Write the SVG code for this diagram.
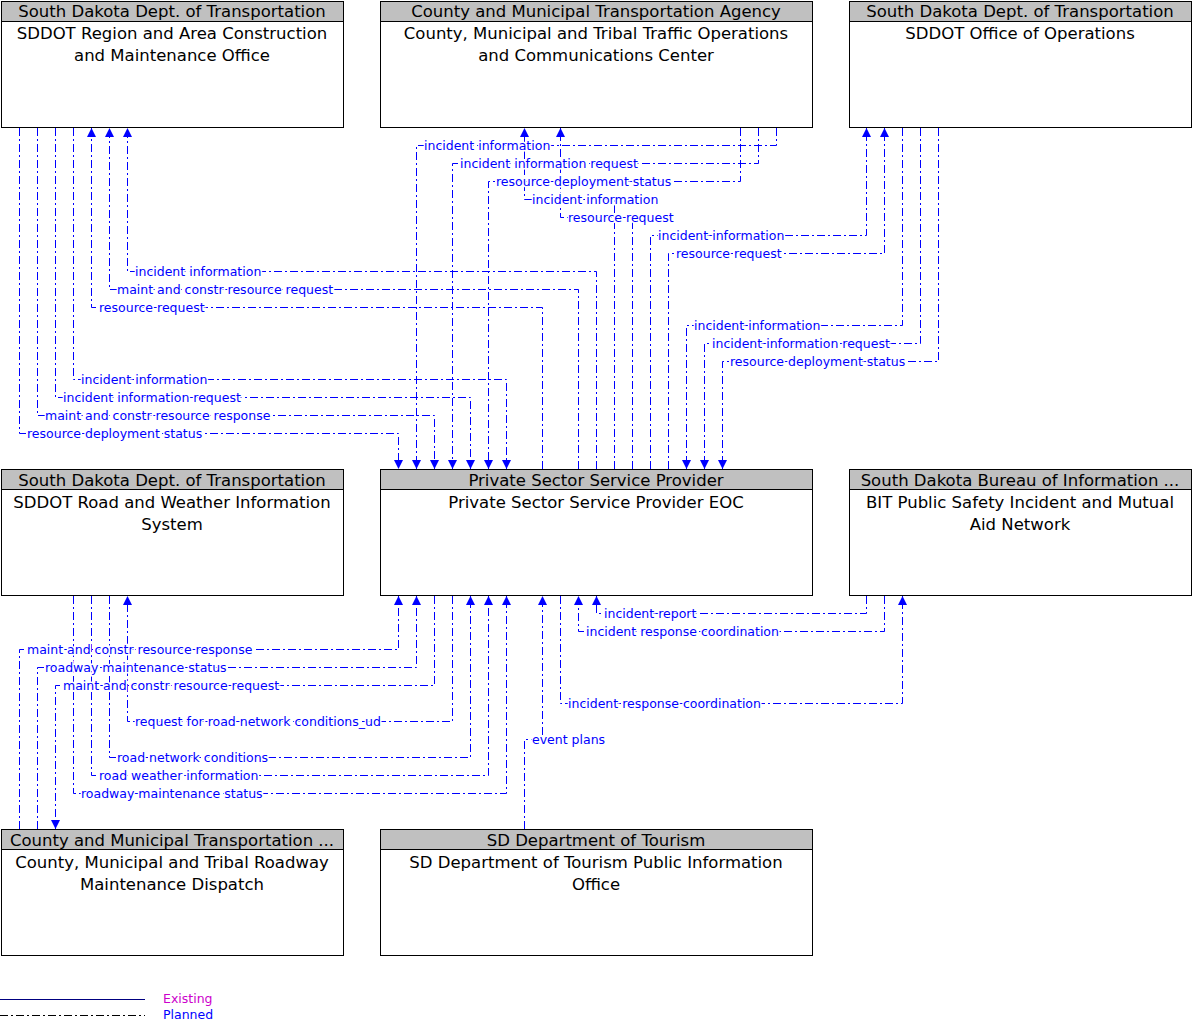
<svg xmlns="http://www.w3.org/2000/svg" width="1200" height="1032" viewBox="0 0 1200 1032">
<defs>
<marker id="ah" viewBox="0 0 10 10" refX="10" refY="5" markerWidth="9" markerHeight="9" markerUnits="userSpaceOnUse" orient="auto"><path d="M0,0L10,5L0,10z" fill="#0000ff"/></marker>
<style>
.box{fill:#fff;stroke:#000;stroke-width:1}
.hd{fill:#c0c0c0;stroke:#000;stroke-width:1}
.ht{font-family:"DejaVu Sans","Liberation Sans",sans-serif;font-size:16.5px;text-anchor:middle;fill:#000}
.c{fill:none;stroke:#0000ff;stroke-width:1;stroke-dasharray:8,3,2,3;marker-end:url(#ah)}
.l{font-family:"DejaVu Sans","Liberation Sans",sans-serif;font-size:12.5px;fill:#0000ff;stroke:#fff;stroke-width:3;paint-order:stroke}
</style>
</defs>
<g id="n1"><rect class="box" x="1.5" y="1.5" width="342" height="126"/><rect class="hd" x="1.5" y="1.5" width="342" height="20"/><text class="ht" x="172" y="17">South Dakota Dept. of Transportation</text><text class="ht" x="172" y="39">SDDOT Region and Area Construction</text><text class="ht" x="172" y="61">and Maintenance Office</text></g>
<g id="n2"><rect class="box" x="380.5" y="1.5" width="432" height="126"/><rect class="hd" x="380.5" y="1.5" width="432" height="20"/><text class="ht" x="596" y="17">County and Municipal Transportation Agency</text><text class="ht" x="596" y="39">County, Municipal and Tribal Traffic Operations</text><text class="ht" x="596" y="61">and Communications Center</text></g>
<g id="n3"><rect class="box" x="849.5" y="1.5" width="342" height="126"/><rect class="hd" x="849.5" y="1.5" width="342" height="20"/><text class="ht" x="1020" y="17">South Dakota Dept. of Transportation</text><text class="ht" x="1020" y="39">SDDOT Office of Operations</text></g>
<g id="n4"><rect class="box" x="1.5" y="469.5" width="342" height="126"/><rect class="hd" x="1.5" y="469.5" width="342" height="20"/><text class="ht" x="172" y="486">South Dakota Dept. of Transportation</text><text class="ht" x="172" y="508">SDDOT Road and Weather Information</text><text class="ht" x="172" y="530">System</text></g>
<g id="n5"><rect class="box" x="380.5" y="469.5" width="432" height="126"/><rect class="hd" x="380.5" y="469.5" width="432" height="20"/><text class="ht" x="596" y="486">Private Sector Service Provider</text><text class="ht" x="596" y="508">Private Sector Service Provider EOC</text></g>
<g id="n6"><rect class="box" x="849.5" y="469.5" width="342" height="126"/><rect class="hd" x="849.5" y="469.5" width="342" height="20"/><text class="ht" x="1020" y="486">South Dakota Bureau of Information ...</text><text class="ht" x="1020" y="508">BIT Public Safety Incident and Mutual</text><text class="ht" x="1020" y="530">Aid Network</text></g>
<g id="n7"><rect class="box" x="1.5" y="829.5" width="342" height="126"/><rect class="hd" x="1.5" y="829.5" width="342" height="20"/><text class="ht" x="172" y="846">County and Municipal Transportation ...</text><text class="ht" x="172" y="868">County, Municipal and Tribal Roadway</text><text class="ht" x="172" y="890">Maintenance Dispatch</text></g>
<g id="n8"><rect class="box" x="380.5" y="829.5" width="432" height="126"/><rect class="hd" x="380.5" y="829.5" width="432" height="20"/><text class="ht" x="596" y="846">SD Department of Tourism</text><text class="ht" x="596" y="868">SD Department of Tourism Public Information</text><text class="ht" x="596" y="890">Office</text></g>
<g id="connectors">
<path class="c" d="M776.5,128V145.5H416.5V469"/>
<path class="c" d="M758.5,128V163.5H452.5V469"/>
<path class="c" d="M740.5,128V181.5H488.5V469"/>
<path class="c" d="M614.5,469V199.5H524.5V128"/>
<path class="c" d="M632.5,469V217.5H560.5V128"/>
<path class="c" d="M650.5,469V235.5H866.5V128"/>
<path class="c" d="M668.5,469V253.5H884.5V128"/>
<path class="c" d="M902.5,128V325.5H686.5V469"/>
<path class="c" d="M920.5,128V343.5H704.5V469"/>
<path class="c" d="M938.5,128V361.5H722.5V469"/>
<path class="c" d="M596.5,469V271.5H127.5V128"/>
<path class="c" d="M578.5,469V289.5H109.5V128"/>
<path class="c" d="M542.5,469V307.5H91.5V128"/>
<path class="c" d="M73.5,128V379.5H506.5V469"/>
<path class="c" d="M55.5,128V397.5H470.5V469"/>
<path class="c" d="M37.5,128V415.5H434.5V469"/>
<path class="c" d="M19.5,128V433.5H398.5V469"/>
<path class="c" d="M866.5,596V613.5H596.5V596"/>
<path class="c" d="M884.5,596V631.5H578.5V596"/>
<path class="c" d="M560.5,596V703.5H902.5V596"/>
<path class="c" d="M524.5,829V739.5H542.5V596"/>
<path class="c" d="M19.5,829V649.5H398.5V596"/>
<path class="c" d="M37.5,829V667.5H416.5V596"/>
<path class="c" d="M434.5,596V685.5H55.5V829"/>
<path class="c" d="M452.5,596V721.5H127.5V596"/>
<path class="c" d="M109.5,596V757.5H470.5V596"/>
<path class="c" d="M91.5,596V775.5H488.5V596"/>
<path class="c" d="M73.5,596V793.5H506.5V596"/>
</g>
<g id="labels">
<text class="l" x="424" y="150">incident information</text>
<text class="l" x="460" y="168">incident information request</text>
<text class="l" x="496" y="186">resource deployment status</text>
<text class="l" x="532" y="204">incident information</text>
<text class="l" x="568" y="222">resource request</text>
<text class="l" x="658" y="240">incident information</text>
<text class="l" x="676" y="258">resource request</text>
<text class="l" x="694" y="330">incident information</text>
<text class="l" x="712" y="348">incident information request</text>
<text class="l" x="730" y="366">resource deployment status</text>
<text class="l" x="135" y="276">incident information</text>
<text class="l" x="117" y="294">maint and constr resource request</text>
<text class="l" x="99" y="312">resource request</text>
<text class="l" x="81" y="384">incident information</text>
<text class="l" x="63" y="402">incident information request</text>
<text class="l" x="45" y="420">maint and constr resource response</text>
<text class="l" x="27" y="438">resource deployment status</text>
<text class="l" x="604" y="618">incident report</text>
<text class="l" x="586" y="636">incident response coordination</text>
<text class="l" x="568" y="708">incident response coordination</text>
<text class="l" x="532" y="744">event plans</text>
<text class="l" x="27" y="654">maint and constr resource response</text>
<text class="l" x="45" y="672">roadway maintenance status</text>
<text class="l" x="63" y="690">maint and constr resource request</text>
<text class="l" x="135" y="726">request for road network conditions_ud</text>
<text class="l" x="117" y="762">road network conditions</text>
<text class="l" x="99" y="780">road weather information</text>
<text class="l" x="81" y="798">roadway maintenance status</text>
</g>
<g id="legend">
<line x1="0" y1="999.5" x2="145" y2="999.5" stroke="#000080" stroke-width="1"/>
<line x1="0" y1="1015.5" x2="145" y2="1015.5" stroke="#000000" stroke-width="1" stroke-dasharray="8,3,2,3"/>
<text x="163" y="1003" font-family="DejaVu Sans,Liberation Sans,sans-serif" font-size="12.5" fill="#cc00cc">Existing</text>
<text x="163" y="1019" font-family="DejaVu Sans,Liberation Sans,sans-serif" font-size="12.5" fill="#0000ff">Planned</text>
</g>
</svg>
